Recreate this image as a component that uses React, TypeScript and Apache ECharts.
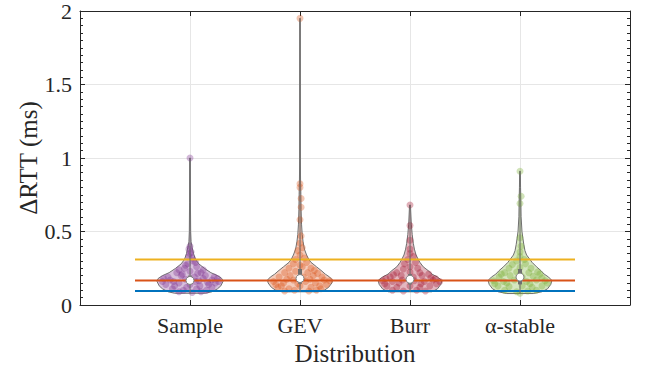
import React, { useEffect, useRef } from "react";
import * as echarts from "echarts";

const categories = ["Sample", "GEV", "Burr", "α-stable"];
const colors = ["#7E2F8E", "#D95319", "#A2142F", "#77AC30"];

// reference horizontal lines (ms)
const refLines = [
  { value: 0.31, color: "#EDB120" },
  { value: 0.167, color: "#D95319" },
  { value: 0.096, color: "#0072BD" },
];

// violin half-width profiles: [y (ms), half width (category units)]
const profileSample = [
  [0.08, 0.14], [0.09, 0.2], [0.11, 0.25], [0.13, 0.28], [0.16, 0.3], [0.18, 0.29],
  [0.2, 0.25], [0.22, 0.19], [0.25, 0.13], [0.28, 0.08], [0.31, 0.05], [0.35, 0.032],
  [0.39, 0.02], [0.43, 0.01], [0.5, 0.006], [0.7, 0.004], [1.0, 0.003],
];
const profileGEV = [
  [0.09, 0.16], [0.1, 0.22], [0.12, 0.26], [0.15, 0.29], [0.17, 0.295], [0.19, 0.27],
  [0.21, 0.23], [0.23, 0.2], [0.26, 0.15], [0.29, 0.1], [0.31, 0.08], [0.34, 0.06],
  [0.38, 0.04], [0.43, 0.028], [0.48, 0.02], [0.55, 0.014], [0.65, 0.01], [0.75, 0.008],
  [0.85, 0.005], [1.0, 0.003], [1.95, 0.002],
];
const profileBurr = [
  [0.09, 0.2], [0.11, 0.25], [0.14, 0.28], [0.167, 0.29], [0.19, 0.25], [0.21, 0.2],
  [0.234, 0.165], [0.26, 0.12], [0.29, 0.09], [0.31, 0.075], [0.34, 0.055], [0.38, 0.04],
  [0.42, 0.03], [0.48, 0.02], [0.55, 0.012], [0.68, 0.004],
];
const profileStable = [
  [0.078, 0.12], [0.09, 0.2], [0.11, 0.25], [0.14, 0.28], [0.167, 0.29], [0.19, 0.26],
  [0.21, 0.22], [0.234, 0.19], [0.26, 0.15], [0.29, 0.11], [0.31, 0.09], [0.34, 0.06],
  [0.37, 0.045], [0.41, 0.035], [0.45, 0.027], [0.5, 0.018], [0.6, 0.01], [0.7, 0.008],
  [0.8, 0.005], [0.91, 0.003],
];
const profiles = [profileSample, profileGEV, profileBurr, profileStable];

// box stats: [q1, median, q3, min, max]
const stats = [
  [0.14, 0.167, 0.2, 0.08, 1.0],
  [0.145, 0.18, 0.245, 0.09, 1.95],
  [0.14, 0.175, 0.21, 0.09, 0.68],
  [0.14, 0.19, 0.245, 0.078, 0.91],
];

// observation points: [horizontal offset (category units), y (ms)]
const pointsSample = [
  [-0.25, 0.16], [-0.18, 0.17], [-0.1, 0.15], [0.05, 0.16], [0.12, 0.18], [0.2, 0.17], [0.26, 0.16],
  [-0.22, 0.14], [-0.14, 0.13], [0.0, 0.14], [0.09, 0.13], [0.17, 0.14], [0.23, 0.15], [-0.2, 0.19],
  [-0.08, 0.2], [0.04, 0.19], [0.14, 0.2], [0.22, 0.19], [-0.12, 0.22], [0.0, 0.23], [0.1, 0.22],
  [-0.05, 0.25], [0.06, 0.26], [-0.02, 0.28], [0.03, 0.3], [-0.01, 0.33], [0.01, 0.36], [-0.01, 0.38],
  [0.0, 0.4], [0.0, 1.0], [-0.16, 0.11], [-0.06, 0.1], [0.06, 0.11], [0.15, 0.1], [-0.1, 0.09],
  [0.02, 0.085], [0.1, 0.09], [-0.03, 0.12], [0.2, 0.12], [-0.24, 0.18], [0.25, 0.18], [-0.15, 0.16],
  [0.08, 0.165], [-0.04, 0.175], [0.16, 0.155], [-0.07, 0.21], [0.07, 0.215], [0.12, 0.24],
  [-0.1, 0.24], [-0.04, 0.27], [0.05, 0.29], [0.02, 0.32], [0.0, 0.35],
];
const pointsGEV = [
  [-0.24, 0.16], [-0.15, 0.15], [-0.06, 0.17], [0.05, 0.16], [0.14, 0.15], [0.22, 0.17], [0.27, 0.165],
  [-0.2, 0.12], [-0.1, 0.11], [0.0, 0.13], [0.1, 0.12], [0.19, 0.11], [-0.05, 0.1], [0.08, 0.095],
  [-0.14, 0.095], [0.15, 0.1], [-0.19, 0.19], [-0.09, 0.2], [0.03, 0.19], [0.12, 0.2], [0.2, 0.19],
  [-0.14, 0.22], [-0.04, 0.23], [0.07, 0.22], [0.16, 0.215], [-0.1, 0.25], [0.02, 0.26], [0.1, 0.25],
  [-0.06, 0.28], [0.06, 0.29], [0.0, 0.27], [-0.04, 0.31], [0.04, 0.32], [0.0, 0.34], [-0.02, 0.37],
  [0.02, 0.39], [0.0, 0.42], [0.01, 0.47], [0.0, 0.58], [0.01, 0.665], [0.01, 0.725], [0.0, 0.8],
  [0.0, 0.825], [0.0, 1.95], [-0.22, 0.14], [0.24, 0.14], [-0.12, 0.175], [0.09, 0.175],
  [-0.02, 0.145], [0.18, 0.13], [-0.17, 0.13], [0.13, 0.235],
];
const pointsBurr = [
  [-0.25, 0.165], [-0.16, 0.16], [-0.07, 0.17], [0.04, 0.165], [0.13, 0.16], [0.21, 0.17], [0.27, 0.16],
  [-0.21, 0.13], [-0.12, 0.12], [0.0, 0.13], [0.09, 0.12], [0.18, 0.13], [-0.16, 0.1], [-0.06, 0.095],
  [0.06, 0.1], [0.14, 0.095], [-0.18, 0.19], [-0.08, 0.2], [0.03, 0.19], [0.11, 0.2], [0.19, 0.185],
  [-0.12, 0.22], [0.0, 0.225], [0.09, 0.22], [-0.06, 0.245], [0.07, 0.25], [0.0, 0.26], [-0.05, 0.28],
  [0.05, 0.29], [-0.02, 0.31], [0.03, 0.33], [0.0, 0.35], [0.0, 0.38], [0.0, 0.44], [0.0, 0.54],
  [0.0, 0.68], [-0.23, 0.145], [0.24, 0.145], [-0.1, 0.15], [0.1, 0.145], [0.17, 0.21], [-0.15, 0.205],
  [-0.22, 0.18], [0.23, 0.18],
];
const pointsStable = [
  [-0.24, 0.165], [-0.15, 0.16], [-0.05, 0.17], [0.06, 0.16], [0.15, 0.17], [0.23, 0.165],
  [-0.2, 0.13], [-0.1, 0.125], [0.02, 0.13], [0.11, 0.12], [0.2, 0.13], [-0.14, 0.1], [-0.03, 0.09],
  [0.07, 0.095], [0.15, 0.1], [0.0, 0.08], [-0.19, 0.19], [-0.09, 0.2], [0.02, 0.19], [0.12, 0.195],
  [0.2, 0.185], [-0.14, 0.22], [-0.03, 0.225], [0.08, 0.22], [0.16, 0.225], [-0.1, 0.25], [0.0, 0.255],
  [0.1, 0.25], [-0.07, 0.275], [0.05, 0.28], [-0.03, 0.3], [0.04, 0.31], [0.0, 0.33], [0.0, 0.36],
  [0.01, 0.4], [0.0, 0.457], [0.0, 0.69], [0.01, 0.74], [0.0, 0.91], [-0.23, 0.145], [0.25, 0.15],
  [-0.12, 0.15], [0.09, 0.145], [0.18, 0.21], [-0.17, 0.21], [0.0, 0.205],
];
const points = [pointsSample, pointsGEV, pointsBurr, pointsStable];

const yTicks = [0, 0.5, 1, 1.5, 2];

function rgba(hex: string, a: number) {
  const n = parseInt(hex.slice(1), 16);
  return `rgba(${(n >> 16) & 255},${(n >> 8) & 255},${n & 255},${a})`;
}

const FONT = "'Liberation Serif', 'Times New Roman', 'DejaVu Serif', serif";
const AXIS_COLOR = "#262626";

export default function App() {
  const ref = useRef<HTMLDivElement>(null);
  useEffect(() => {
    if (!ref.current) return;
    const chart = echarts.init(ref.current, undefined, { renderer: "svg" });

    const violinSeries = {
      type: "custom",
      z: 2,
      silent: true,
      data: categories.map((_, i) => [i, 0]),
      encode: { x: 0, y: 1 },
      renderItem: (params: any, api: any) => {
        const i = api.value(0);
        const prof = profiles[i];
        const right = prof.map(([y, w]) => api.coord([i + 1 + w, y]));
        const left = prof
          .slice()
          .reverse()
          .map(([y, w]) => api.coord([i + 1 - w, y]));
        return {
          type: "polygon",
          shape: { points: [...right, ...left] },
          style: { fill: rgba(colors[i], 0.3), stroke: "#707070", lineWidth: 1 },
        };
      },
    };

    const scatterSeries = points.map((pts, i) => ({
      type: "scatter",
      z: 3,
      silent: true,
      symbolSize: 7,
      data: pts.map(([dx, y]) => [i + 1 + dx, y]),
      itemStyle: { color: rgba(colors[i], 0.42) },
    }));

    const lineSeries = refLines.map((l) => ({
      type: "line",
      z: 4,
      silent: true,
      showSymbol: false,
      data: [
        [0.5, l.value],
        [4.5, l.value],
      ],
      lineStyle: { color: l.color, width: 2 },
    }));

    const boxSeries = {
      type: "custom",
      z: 5,
      silent: true,
      data: categories.map((_, i) => [i, 0]),
      encode: { x: 0, y: 1 },
      renderItem: (params: any, api: any) => {
        const i = api.value(0);
        const [q1, med, q3, mn, mx] = stats[i];
        const pMin = api.coord([i + 1, mn]);
        const pMax = api.coord([i + 1, mx]);
        const pQ1 = api.coord([i + 1, q1]);
        const pQ3 = api.coord([i + 1, q3]);
        const pMed = api.coord([i + 1, med]);
        return {
          type: "group",
          children: [
            {
              type: "line",
              shape: { x1: pMin[0], y1: pMin[1], x2: pMax[0], y2: pMax[1] },
              style: { stroke: "#707070", lineWidth: 1 },
            },
            {
              type: "line",
              shape: { x1: pQ1[0], y1: pQ1[1], x2: pQ3[0], y2: pQ3[1] },
              style: { stroke: "#707070", lineWidth: 4 },
            },
            {
              type: "circle",
              shape: { cx: pMed[0], cy: pMed[1], r: 4 },
              style: { fill: "#ffffff", stroke: "#808080", lineWidth: 1 },
            },
          ],
        };
      },
    };

    const option: any = {
      animation: false,
      backgroundColor: "#ffffff",
      grid: { left: 80, top: 6, width: 550, height: 299, containLabel: false },
      xAxis: [
        {
          type: "value",
          min: 0,
          max: 5,
          interval: 1,
          name: "Distribution",
          nameLocation: "middle",
          nameGap: 36,
          nameMoveOverlap: false,
          nameTextStyle: { fontFamily: FONT, fontSize: 25, color: AXIS_COLOR },
          axisLine: { show: true, lineStyle: { color: AXIS_COLOR, width: 1 } },
          axisTick: { show: true, inside: true, length: 5, lineStyle: { color: AXIS_COLOR } },
          axisLabel: {
            fontFamily: FONT,
            fontSize: 22,
            color: AXIS_COLOR,
            margin: 9,
            formatter: (v: number) => (v >= 1 && v <= 4 ? categories[v - 1] : ""),
          },
          splitLine: { show: true, lineStyle: { color: "#e6e6e6", width: 1 } },
        },
        {
          type: "value",
          position: "top",
          min: 0,
          max: 5,
          interval: 1,
          axisLine: { show: true, onZero: false, lineStyle: { color: AXIS_COLOR, width: 1 } },
          axisTick: { show: true, inside: true, length: 5, lineStyle: { color: AXIS_COLOR } },
          axisLabel: { show: false },
          splitLine: { show: false },
        },
      ],
      yAxis: [
        {
          type: "value",
          min: yTicks[0],
          max: yTicks[yTicks.length - 1],
          interval: 0.5,
          name: "ΔRTT (ms)",
          nameLocation: "middle",
          nameRotate: 90,
          nameGap: 39,
          nameMoveOverlap: false,
          nameTextStyle: { fontFamily: FONT, fontSize: 25, color: AXIS_COLOR },
          axisLine: { show: true, lineStyle: { color: AXIS_COLOR, width: 1 } },
          axisTick: { show: true, inside: true, length: 5, lineStyle: { color: AXIS_COLOR } },
          minorTick: { show: true, splitNumber: 10, length: 3, lineStyle: { color: AXIS_COLOR } },
          axisLabel: {
            fontFamily: FONT,
            fontSize: 22,
            color: AXIS_COLOR,
            margin: 8,
            formatter: (v: number) => String(v),
          },
          splitLine: { show: true, lineStyle: { color: "#e6e6e6", width: 1 } },
        },
        {
          type: "value",
          position: "right",
          min: yTicks[0],
          max: yTicks[yTicks.length - 1],
          interval: 0.5,
          axisLine: { show: true, onZero: false, lineStyle: { color: AXIS_COLOR, width: 1 } },
          axisTick: { show: true, inside: true, length: 5, lineStyle: { color: AXIS_COLOR } },
          minorTick: { show: true, splitNumber: 10, length: 3, lineStyle: { color: AXIS_COLOR } },
          axisLabel: { show: false },
          splitLine: { show: false },
        },
      ],
      series: [violinSeries, ...scatterSeries, ...lineSeries, boxSeries],
    };
    chart.setOption(option);
    return () => chart.dispose();
  }, []);

  return (
    <div
      ref={ref}
      style={{ position: "fixed", left: 0, top: 0, width: 646, height: 372, background: "#fff" }}
    />
  );
}
